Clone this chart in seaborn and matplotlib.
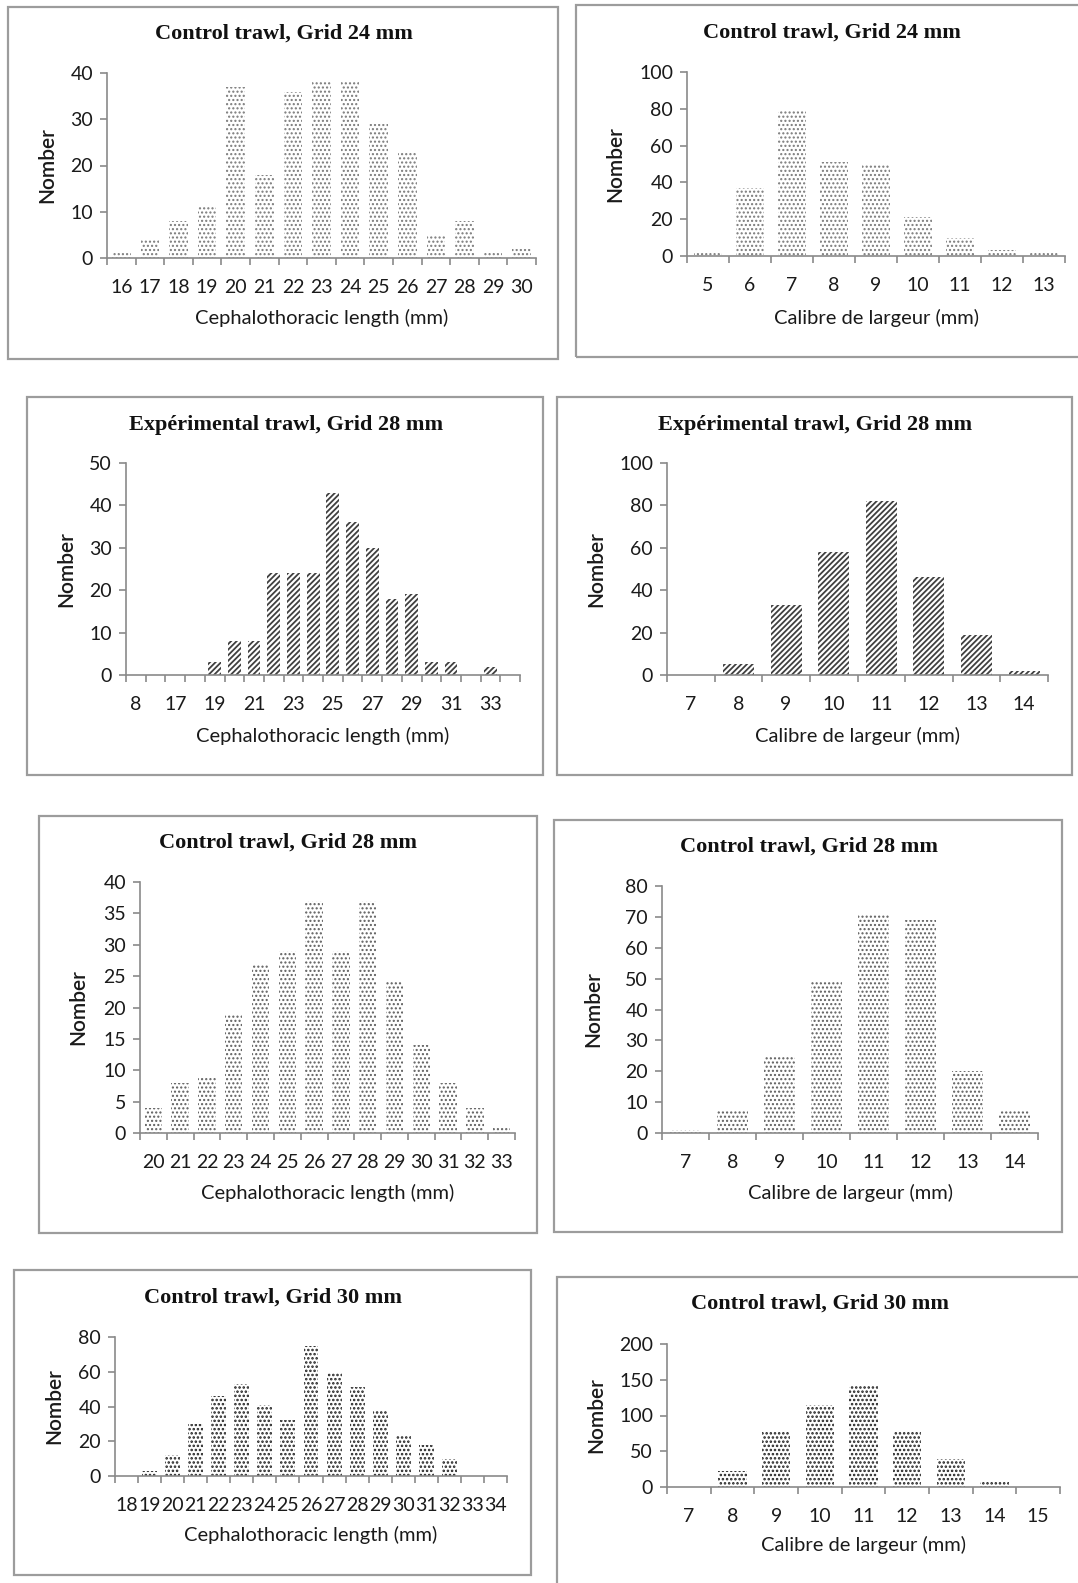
import matplotlib
matplotlib.use("Agg")
import matplotlib.pyplot as plt
import matplotlib.transforms as mtrans
from matplotlib.patches import Rectangle
from matplotlib.ticker import FixedLocator, MultipleLocator
import seaborn as sns

sns.set_theme(style="white")
plt.rcParams['font.family'] = ['Lato', 'DejaVu Sans']

# ---------------- data ----------------
TITLE_C24 = "Control trawl, Grid 24 mm"
TITLE_E28 = "Expérimental trawl, Grid 28 mm"
TITLE_C28 = "Control trawl, Grid 28 mm"
TITLE_C30 = "Control trawl, Grid 30 mm"
XLAB_LEN = "Cephalothoracic length (mm)"
XLAB_CAL = "Calibre de largeur (mm)"
YLAB = "Nomber"

len_c24_cats = [16, 17, 18, 19, 20, 21, 22, 23, 24, 25, 26, 27, 28, 29, 30]
len_c24_vals = [1, 4, 8, 11, 37, 18, 36, 38, 38, 29, 23, 5, 8, 1, 2]

cal_c24_cats = [5, 6, 7, 8, 9, 10, 11, 12, 13]
cal_c24_vals = [2, 37, 79, 51, 50, 21, 10, 3, 2]

len_e28_cats = [8, 16, 17, 18, 19, 20, 21, 22, 23, 24, 25, 26, 27, 28, 29, 30, 31, 32, 33, 34]
len_e28_vals = [0, 0, 0, 0, 3, 8, 8, 24, 24, 24, 43, 36, 30, 18, 19, 3, 3, 0, 2, 0]
len_e28_shown = [8, 17, 19, 21, 23, 25, 27, 29, 31, 33]

cal_e28_cats = [7, 8, 9, 10, 11, 12, 13, 14]
cal_e28_vals = [0, 5, 33, 58, 82, 46, 19, 2]

len_c28_cats = [20, 21, 22, 23, 24, 25, 26, 27, 28, 29, 30, 31, 32, 33]
len_c28_vals = [4, 8, 9, 19, 27, 29, 37, 29, 37, 24, 14, 8, 4, 1]

cal_c28_cats = [7, 8, 9, 10, 11, 12, 13, 14]
cal_c28_vals = [1, 7, 25, 49, 71, 69, 20, 7]

len_c30_cats = [18, 19, 20, 21, 22, 23, 24, 25, 26, 27, 28, 29, 30, 31, 32, 33, 34]
len_c30_vals = [0, 3, 12, 30, 46, 53, 41, 32, 75, 59, 51, 38, 23, 18, 10, 0, 0]

cal_c30_cats = [7, 8, 9, 10, 11, 12, 13, 14, 15]
cal_c30_vals = [0, 23, 79, 115, 143, 79, 39, 9, 0]

# ---------------- layout (pixels) ----------------
W, H = 1078, 1583
fig = plt.figure(figsize=(W / 100, H / 100), dpi=100)
fig.patch.set_facecolor("white")

DOT_LIGHT = dict(hatch="....", color="#7a7a7a", lw=1.0)
DOT_MED = dict(hatch="....", color="#5e5e5e", lw=1.0)
DOT_DARK = dict(hatch="....", color="#202020", lw=1.2)
DIAG = dict(hatch="//////", color="#404040", lw=1.3)

panels = [
    dict(cats=len_c24_cats, vals=len_c24_vals, shown=None, title=TITLE_C24, xlabel=XLAB_LEN,
         ymax=40, ystep=10, frame=(8, 7, 558, 359), axes=(107, 73, 536, 258),
         title_xy=(284, 34), xlab_y=318, ylab_x=47, style=DOT_LIGHT),
    dict(cats=cal_c24_cats, vals=cal_c24_vals, shown=None, title=TITLE_C24, xlabel=XLAB_CAL,
         ymax=100, ystep=20, frame=(576, 5, 1090, 357), axes=(687, 72, 1065, 256),
         title_xy=(832, 33), xlab_y=318, ylab_x=615, style=DOT_LIGHT),
    dict(cats=len_e28_cats, vals=len_e28_vals, shown=len_e28_shown, title=TITLE_E28, xlabel=XLAB_LEN,
         ymax=50, ystep=10, frame=(27, 397, 543, 775), axes=(126, 463, 520, 675),
         title_xy=(286, 425), xlab_y=736, ylab_x=66, style=DIAG),
    dict(cats=cal_e28_cats, vals=cal_e28_vals, shown=None, title=TITLE_E28, xlabel=XLAB_CAL,
         ymax=100, ystep=20, frame=(557, 397, 1072, 775), axes=(667, 463, 1048, 675),
         title_xy=(815, 425), xlab_y=736, ylab_x=596, style=DIAG),
    dict(cats=len_c28_cats, vals=len_c28_vals, shown=None, title=TITLE_C28, xlabel=XLAB_LEN,
         ymax=40, ystep=5, frame=(39, 816, 537, 1233), axes=(140, 882, 515, 1133),
         title_xy=(288, 843), xlab_y=1193, ylab_x=78, style=DOT_MED),
    dict(cats=cal_c28_cats, vals=cal_c28_vals, shown=None, title=TITLE_C28, xlabel=XLAB_CAL,
         ymax=80, ystep=10, frame=(554, 820, 1062, 1232), axes=(662, 886, 1038, 1133),
         title_xy=(809, 847), xlab_y=1193, ylab_x=593, style=DOT_MED),
    dict(cats=len_c30_cats, vals=len_c30_vals, shown=None, title=TITLE_C30, xlabel=XLAB_LEN,
         ymax=80, ystep=20, frame=(14, 1270, 531, 1575), axes=(115, 1337, 507, 1476),
         title_xy=(273, 1298), xlab_y=1535, ylab_x=54, style=DOT_DARK),
    dict(cats=cal_c30_cats, vals=cal_c30_vals, shown=None, title=TITLE_C30, xlabel=XLAB_CAL,
         ymax=200, ystep=50, frame=(557, 1277, 1090, 1600), axes=(667, 1344, 1060, 1487),
         title_xy=(820, 1304), xlab_y=1545, ylab_x=596, style=DOT_DARK),
]

AXIS_GRAY = "#8a8a8a"
TEXT_COL = "#1a1a1a"
TICK_FS = 14
LAB_FS = 14.5

for p in panels:
    fl, ft, fr, fb = p["frame"]
    fig.patches.append(Rectangle((fl / W, 1 - fb / H), (fr - fl) / W, (fb - ft) / H,
                                 transform=fig.transFigure, fill=False,
                                 edgecolor="#9c9c9c", linewidth=1.6, zorder=0))
    al, at, ar, ab = p["axes"]
    ax = fig.add_axes([al / W, 1 - ab / H, (ar - al) / W, (ab - at) / H])
    cats = [str(c) for c in p["cats"]]
    n = len(cats)
    st = p["style"]
    with plt.rc_context({"hatch.linewidth": st["lw"]}):
        sns.barplot(x=cats, y=p["vals"], order=cats, ax=ax, color="white",
                    width=0.65, linewidth=0, saturation=1)
        for patch in ax.patches:
            patch.set_facecolor("white")
            patch.set_hatch(st["hatch"])
            patch.set_edgecolor(st["color"])
            patch.set_linewidth(0)
            if hasattr(patch, "set_hatch_linewidth"):
                patch.set_hatch_linewidth(st["lw"])

    ax.set_xlim(-0.5, n - 0.5)
    ax.set_ylim(0, p["ymax"])
    ax.yaxis.set_major_locator(MultipleLocator(p["ystep"]))
    ax.set_facecolor("none")
    for s in ["top", "right"]:
        ax.spines[s].set_visible(False)
    for s in ["left", "bottom"]:
        ax.spines[s].set_color(AXIS_GRAY)
        ax.spines[s].set_linewidth(1.2)

    # x ticks: marks at category boundaries, labels at centres
    ax.xaxis.set_major_locator(FixedLocator([i - 0.5 for i in range(n + 1)]))
    ax.xaxis.set_minor_locator(FixedLocator(list(range(n))))
    ax.set_xticklabels([], minor=False)
    shown = p["shown"]
    labels = [c if (shown is None or int(c) in shown) else "" for c in cats]
    ax.set_xticklabels(labels, minor=True)
    ax.tick_params(axis="x", which="major", direction="out", length=5, width=1.2,
                   color=AXIS_GRAY, bottom=True)
    ax.tick_params(axis="x", which="minor", length=0, pad=15, labelsize=TICK_FS,
                   labelcolor=TEXT_COL, bottom=True)
    ax.tick_params(axis="y", direction="out", length=5, width=1.2, color=AXIS_GRAY,
                   pad=5, labelsize=TICK_FS, labelcolor=TEXT_COL, left=True)

    ax.set_xlabel(p["xlabel"], fontsize=LAB_FS, color=TEXT_COL, va="center")
    ax.xaxis.set_label_coords(0.5, 1 - p["xlab_y"] / H,
                              transform=mtrans.blended_transform_factory(ax.transAxes, fig.transFigure))
    ax.set_ylabel(YLAB, fontsize=15, fontweight="semibold", color=TEXT_COL, va="center")
    ax.yaxis.set_label_coords(p["ylab_x"] / W, 0.5,
                              transform=mtrans.blended_transform_factory(fig.transFigure, ax.transAxes))

    tx, ty = p["title_xy"]
    fig.text(tx / W, 1 - ty / H, p["title"], ha="center", va="center",
             fontsize=16, fontweight="bold", family=["Liberation Serif", "DejaVu Serif"],
             color="#111111")

fig.savefig("out.png", dpi=100, facecolor="white")
